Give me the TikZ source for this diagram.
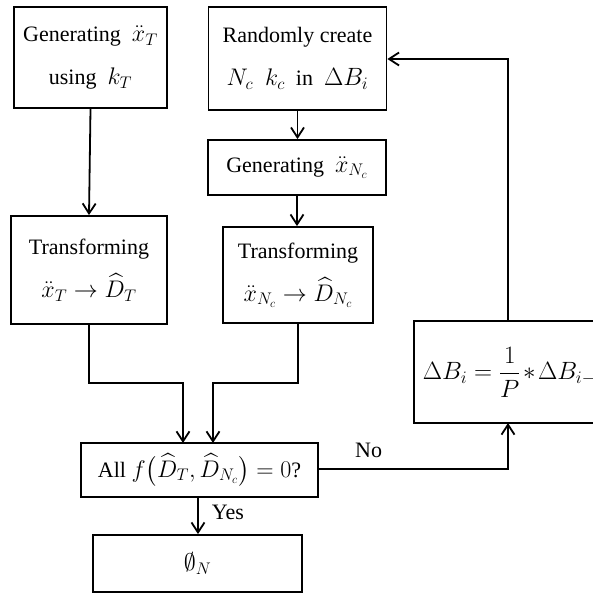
\RequirePackage{fix-cm}
\documentclass[tikz,border=0pt]{standalone}
\usepackage{amsmath}
\usepackage{fontspec}
\setmainfont{Liberation Serif}
\usetikzlibrary{arrows.meta}
\newcommand\mth[1]{{\fontsize{24}{30}\selectfont$#1$}}
\newcommand\mthb[1]{{\fontsize{25}{30}\selectfont$#1$}}
\tikzset{
  box/.style={draw, line width=1.8pt, align=center, inner sep=0pt, font=\fontsize{22}{43}\selectfont},
  conn/.style={line width=1.8pt, -{Straight Barb[length=10pt,width=13pt,line width=1.8pt]}},
  lbl/.style={font=\fontsize{22}{26}\selectfont, inner sep=0pt}
}
\begin{document}
\begin{tikzpicture}[x=1pt,y=-1pt]
\useasboundingbox (0,0) rectangle (593,593);
\clip (0,0) rectangle (593,593);
\node[box, minimum width=153pt, minimum height=101pt] (A) at (90.5,57.5) {Generating\ \ \mth{\ddot{x}_T}\\ using\ \ \mth{k_T}};
\node[box, minimum width=178pt, minimum height=103pt] (B) at (297.5,58.5) {Randomly create\\ \mth{N_c\ \ k_c}\ \ in\ \ \mthb{\Delta B_i}};
\node[box, minimum width=178pt, minimum height=55pt] (C) at (297,167.5) {Generating\ \ \mth{\ddot{x}_{N_c}}};
\node[box, minimum width=156pt, minimum height=108pt] (D) at (89,270) {Transforming\\ \mth{\ddot{x}_T\rightarrow\widehat{D}_T}};
\node[box, minimum width=150pt, minimum height=96pt] (E) at (298,275) {Transforming\\ \mth{\ddot{x}_{N_c}\rightarrow\widehat{D}_{N_c}}};
\node[box, minimum width=190pt, minimum height=102pt, anchor=west, text width=190pt, align=left] (F) at (413,372) {\hspace{9pt}\mthb{\Delta B_i=\dfrac{1}{P}*\Delta B_{i-1}}};
\node[box, minimum width=237pt, minimum height=54pt] (G) at (199.5,470) {All~\mth{f\bigl(\widehat{D}_T,\widehat{D}_{N_c}\bigr)=0}?};
\node[box, minimum width=209pt, minimum height=57pt] (H) at (197.5,563.5) {\mth{\emptyset_N}};
\coordinate (Ftop) at (508,321);
\coordinate (Fbot) at (508,423);
% connectors
\draw[conn] (A.south) -- (D.north);
\draw[conn] (B.south) -- (C.north -| B.south);
\draw[conn] (C.south) -- (E.north -| C.south);
\draw[conn] (D.south) -- (89,383) -- (183,383) -- (183,443);
\draw[conn] (E.south) -- (298,383) -- (213,383) -- (213,443);
\draw[conn] (G.south -| 198,0) -- (H.north -| 198,0);
\draw[conn] (G.east |- 0,469) -- (508,469) -- (Fbot);
\draw[conn] (Ftop) -- (508,59) -- (B.east |- 0,59);
\node[lbl, anchor=south west] (no) at (355,458) {No};
\node[lbl] (yes) at (228,512) {Yes};
\end{tikzpicture}
\end{document}
